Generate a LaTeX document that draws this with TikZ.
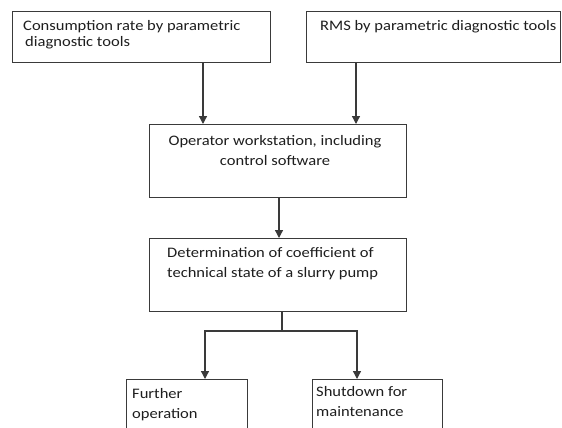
\documentclass[tikz,border=0pt]{standalone}
\usepackage{fontspec}
\setmainfont[FakeStretch=1.14]{Carlito}
\usetikzlibrary{arrows.meta}
\definecolor{linec}{HTML}{3A3A3A}
\definecolor{textc}{HTML}{1E1E1E}
\tikzset{
  box/.style={draw=linec, line width=1.3pt, fill=white, inner sep=0pt, anchor=north west},
  txt/.style={text=textc, inner sep=0pt, anchor=base west, align=left,
              font=\fontsize{14.5}{16}\selectfont},
  txtwide/.style={txt, font=\fontsize{14.5}{20}\selectfont},
  arr/.style={draw=linec, line width=1.3pt, -{Triangle[width=8pt,length=8pt]}},
  ln/.style={draw=linec, line width=1.3pt}
}
\begin{document}
\begin{tikzpicture}[x=1pt,y=-1pt]
\useasboundingbox (0,0) rectangle (562,428);
\clip (0,0) rectangle (562,428);
% boxes
\node[box, minimum width=258, minimum height=51] (b1) at (12,11) {};
\node[box, minimum width=254, minimum height=51] (b2) at (306,11) {};
\node[box, minimum width=257, minimum height=73] (b3) at (149,124) {};
\node[box, minimum width=257, minimum height=73] (b4) at (149,238) {};
\node[box, minimum width=121, minimum height=80] (b5) at (126,379) {};
\node[box, minimum width=130, minimum height=80] (b6) at (312,379) {};
% texts (anchor base = baseline of the last line)
\node[txt] (t1) at (23,46.5) {Consumption rate by parametric\\ \hspace{2pt}diagnostic tools};
\node[txt] (t2) at (320,30.5) {RMS by parametric diagnostic tools};
\node[txtwide, align=center, anchor=base] (t3) at (275,165) {Operator workstation, including\\control software};
\node[txtwide] (t4) at (167,277) {Determination of coefficient of\\technical state of a slurry pump};
\node[txtwide] (t5) at (132,418) {Further\\operation};
\node[txtwide] (t6) at (316,416) {Shutdown for\\maintenance};
% helper coordinates
\coordinate (x1) at (203,0);
\coordinate (x2) at (356,0);
\coordinate (x3) at (279,0);
\coordinate (x4) at (282,0);
\coordinate (split) at (282,331);
\coordinate (x5) at (205,0);
\coordinate (x6) at (357,0);
% connectors
\draw[arr] (b1.south -| x1) -- (b3.north -| x1);
\draw[arr] (b2.south -| x2) -- (b3.north -| x2);
\draw[arr] (b3.south -| x3) -- (b4.north -| x3);
\draw[ln] (b4.south -| x4) -- (split);
\draw[arr] (split) -| (b5.north -| x5);
\draw[arr] (split) -| (b6.north -| x6);
\end{tikzpicture}
\end{document}
